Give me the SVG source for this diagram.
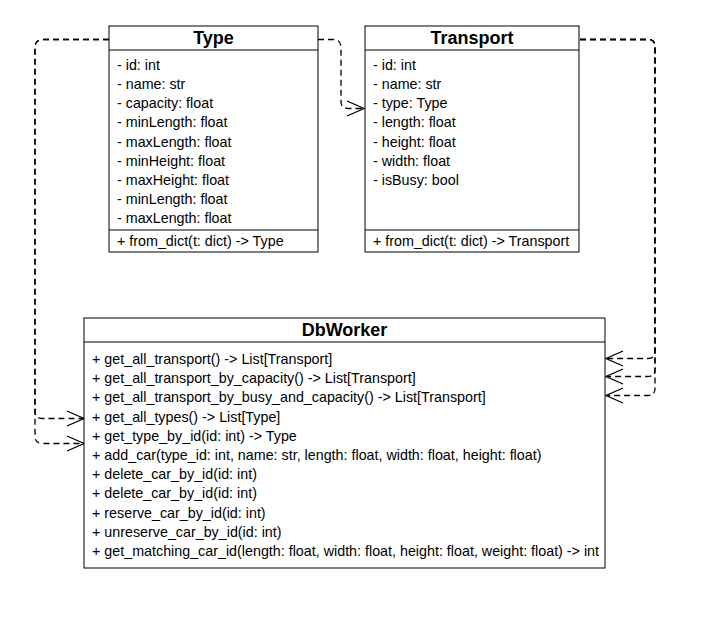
<svg xmlns="http://www.w3.org/2000/svg" width="702" height="631" viewBox="0 0 702 631">
<style>
.box{fill:#fff;stroke:#000;stroke-width:1}
.ln{stroke:#000;stroke-width:1}
.t{font-family:"Liberation Sans",Arial,sans-serif;font-size:14.3px;fill:#000}
.h{font-family:"Liberation Sans",Arial,sans-serif;font-size:18px;font-weight:bold;fill:#000;text-anchor:middle}
.c{fill:none;stroke:#000;stroke-width:1.3;stroke-dasharray:6 4;marker-end:url(#open)}
</style>
<defs>
<marker id="open" viewBox="0 0 20 20" refX="19" refY="10" markerWidth="20" markerHeight="20" markerUnits="userSpaceOnUse" orient="auto">
<path d="M2,2.5 L19,10 L2,17.5" fill="none" stroke="#000" stroke-width="1.3"/>
</marker>
</defs>
<rect width="702" height="631" fill="#fff"/>
<g id="connectors">
<path class="c" d="M318,39.5 L333,39.5 Q341,39.5 341,47.5 L341,101.5 Q341,108.5 349,108.5 L364,108.5"/>
<path class="c" d="M109,39.5 L43,39.5 Q35,39.5 35,47.5 L35,411.5 Q35,418.5 43,418.5 L84,418.5"/>
<path class="c" d="M109,39.5 L43,39.5 Q35,39.5 35,47.5 L35,436.5 Q35,443.5 43,443.5 L84,443.5"/>
<path class="c" d="M580,39.5 L648,39.5 Q655,39.5 655,46.5 L655,351.5 Q655,358.5 648,358.5 L606,358.5"/>
<path class="c" d="M580,39.5 L648,39.5 Q655,39.5 655,46.5 L655,369.5 Q655,376.5 648,376.5 L606,376.5"/>
<path class="c" d="M580,39.5 L648,39.5 Q655,39.5 655,46.5 L655,388.5 Q655,395.5 648,395.5 L606,395.5"/>
</g>
<g id="Type">
<rect class="box" x="109" y="26" width="209" height="226"/>
<line class="ln" x1="109" y1="50" x2="318" y2="50"/>
<line class="ln" x1="109" y1="230" x2="318" y2="230"/>
<text class="h" x="213.5" y="44">Type</text>
<text class="t" x="117" y="70">- id: int</text>
<text class="t" x="117" y="89.1">- name: str</text>
<text class="t" x="117" y="108.3">- capacity: float</text>
<text class="t" x="117" y="127.4">- minLength: float</text>
<text class="t" x="117" y="146.6">- maxLength: float</text>
<text class="t" x="117" y="165.7">- minHeight: float</text>
<text class="t" x="117" y="184.9">- maxHeight: float</text>
<text class="t" x="117" y="204">- minLength: float</text>
<text class="t" x="117" y="223.2">- maxLength: float</text>
<text class="t" x="117" y="246">+ from_dict(t: dict) -&gt; Type</text>
</g>
<g id="Transport">
<rect class="box" x="365" y="26" width="214" height="226"/>
<line class="ln" x1="365" y1="50" x2="579" y2="50"/>
<line class="ln" x1="365" y1="230" x2="579" y2="230"/>
<text class="h" x="472" y="44">Transport</text>
<text class="t" x="373" y="70">- id: int</text>
<text class="t" x="373" y="89.1">- name: str</text>
<text class="t" x="373" y="108.3">- type: Type</text>
<text class="t" x="373" y="127.4">- length: float</text>
<text class="t" x="373" y="146.6">- height: float</text>
<text class="t" x="373" y="165.7">- width: float</text>
<text class="t" x="373" y="184.9">- isBusy: bool</text>
<text class="t" x="373" y="246">+ from_dict(t: dict) -&gt; Transport</text>
</g>
<g id="DbWorker">
<rect class="box" x="84" y="318" width="521" height="250"/>
<line class="ln" x1="84" y1="342" x2="605" y2="342"/>
<text class="h" x="344.5" y="336">DbWorker</text>
<text class="t" x="92" y="364">+ get_all_transport() -&gt; List[Transport]</text>
<text class="t" x="92" y="383.2">+ get_all_transport_by_capacity() -&gt; List[Transport]</text>
<text class="t" x="92" y="402.4">+ get_all_transport_by_busy_and_capacity() -&gt; List[Transport]</text>
<text class="t" x="92" y="421.6">+ get_all_types() -&gt; List[Type]</text>
<text class="t" x="92" y="440.8">+ get_type_by_id(id: int) -&gt; Type</text>
<text class="t" x="92" y="460">+ add_car(type_id: int, name: str, length: float, width: float, height: float)</text>
<text class="t" x="92" y="479.2">+ delete_car_by_id(id: int)</text>
<text class="t" x="92" y="498.4">+ delete_car_by_id(id: int)</text>
<text class="t" x="92" y="517.6">+ reserve_car_by_id(id: int)</text>
<text class="t" x="92" y="536.8">+ unreserve_car_by_id(id: int)</text>
<text class="t" x="92" y="556">+ get_matching_car_id(length: float, width: float, height: float, weight: float) -&gt; int</text>
</g>
</svg>
